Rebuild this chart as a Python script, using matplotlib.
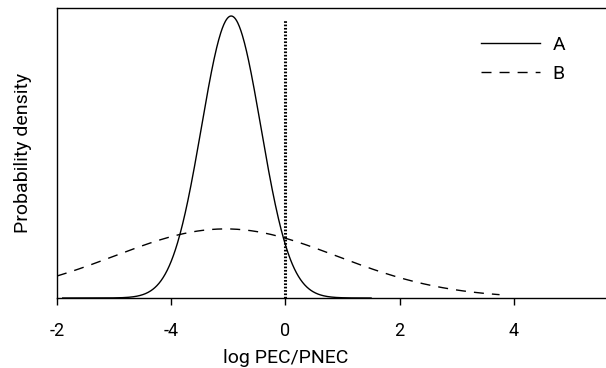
import numpy as np
import matplotlib
matplotlib.use("Agg")
import matplotlib.pyplot as plt

plt.rcParams['font.family'] = ['Roboto', 'DejaVu Sans']

# Data: normal curves (mean, sd, relative peak height)
series_names = ["A", "B"]
means = [-0.95, -1.05]
sds = [0.52, 1.95]
peaks = [1.0, 0.245]
x_ranges = [(-3.9, 1.5), (-4.0, 3.75)]
threshold = 0.0
tick_positions = [-4, -2, 0, 2, 4]
tick_labels = ["-2", "-4", "0", "2", "4"]

fig = plt.figure(figsize=(6.06, 3.68), dpi=100)
ax = fig.add_axes([57/606, 70/368, 1 - 57/606, 290/368])

styles = [dict(ls='-'), dict(ls=(0, (7.2, 5.8)))]
for name, m, s, p, (a, b), st in zip(series_names, means, sds, peaks, x_ranges, styles):
    x = np.linspace(a, b, 600)
    y = p * np.exp(-0.5 * ((x - m) / s) ** 2)
    ax.plot(x, y, color='black', lw=1.0, label=name, **st)

ax.plot([threshold, threshold], [0, 0.985], color='black', lw=2.2, ls=(0, (0.55, 0.55)))

ax.set_xlim(-4, (606 - 286) / 57)
ax.set_ylim(0, 290 / 282)
ax.set_xticks(tick_positions)
ax.set_xticklabels(tick_labels, fontsize=13)
ax.set_yticks([])
ax.tick_params(axis='x', direction='out', length=5, width=1, pad=12)
ax.spines['right'].set_visible(False)
for sp in ['left', 'top', 'bottom']:
    ax.spines[sp].set_linewidth(1.0)

ax.set_xlabel("log PEC/PNEC", fontsize=14)
ax.xaxis.set_label_coords((286 - 57) / 549, -0.175)
ax.set_ylabel("Probability density", fontsize=14)
ax.yaxis.set_label_coords(-0.046, 0.5)

leg = ax.legend(loc='upper left', bbox_to_anchor=(481/606, (368-36)/368),
                bbox_transform=fig.transFigure, frameon=False, fontsize=14,
                handlelength=3.05, handletextpad=0.62, labelspacing=0.58,
                borderpad=0, borderaxespad=0)

fig.savefig("out.png", dpi=100)
